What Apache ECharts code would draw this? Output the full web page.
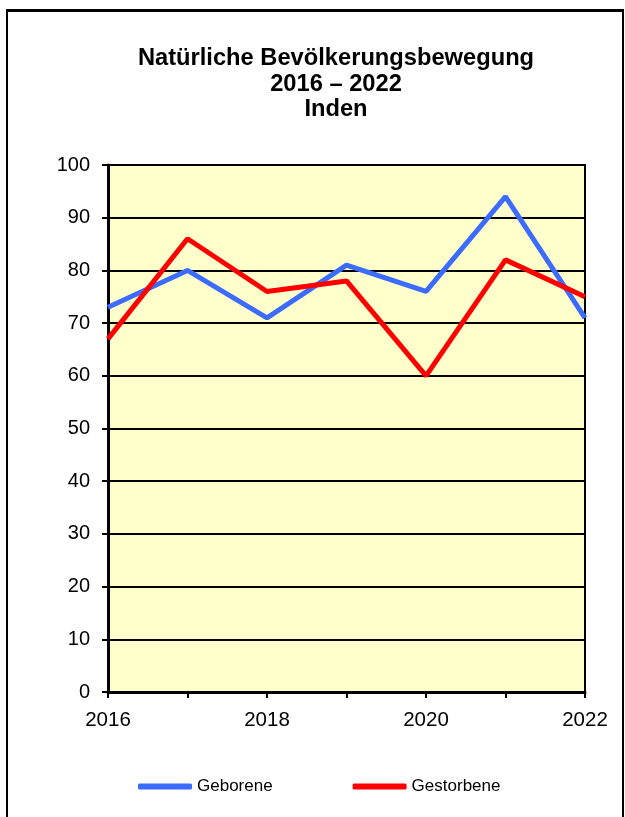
<!DOCTYPE html>
<html><head><meta charset="utf-8">
<script src="https://cdn.jsdelivr.net/npm/echarts@6/dist/echarts.min.js"></script>
<style>
html,body{margin:0;padding:0;background:#fff;}
#frame{position:absolute;left:6px;top:9px;width:618px;height:830px;border:2px solid #000;border-top-width:3px;box-sizing:border-box;}
#c{position:absolute;left:0;top:0;width:625px;height:817px;}
</style></head>
<body>
<div id="frame"></div>
<div id="c"></div>
<script>
const years = ['2016','2017','2018','2019','2020','2021','2022'];
const geborene = [73, 80, 71, 81, 76, 94, 71];
const gestorbene = [67, 86, 76, 78, 60, 82, 75];
const titleLines = ['Natürliche Bevölkerungsbewegung', '2016 – 2022', 'Inden'];

const FONT = 'Liberation Sans, Arial, sans-serif';
const chart = echarts.init(document.getElementById('c'), null, {renderer:'canvas'});
chart.setOption({
  animation:false,
  backgroundColor:'transparent',
  title:{
    text:titleLines.join('\n'),
    top:41, left:331,
    textAlign:'center',
    textStyle:{fontFamily:FONT, fontWeight:'bold', fontSize:23.7, color:'#000', lineHeight:25.5}
  },
  legend:{
    bottom:17, left:133,
    itemGap:80, itemWidth:54, itemHeight:6,
    icon:'roundRect',
    textStyle:{fontFamily:FONT, fontSize:17, color:'#000'},
    data:['Geborene','Gestorbene']
  },
  grid:{left:108, right:40, top:165, bottom:125, show:true, backgroundColor:'#FFFFCC', borderColor:'#000', borderWidth:2},
  xAxis:{
    type:'category', data:years, boundaryGap:false,
    axisLine:{show:true, lineStyle:{color:'#000', width:3}},
    axisTick:{show:true, interval:0, length:6, lineStyle:{color:'#000', width:2}},
    axisLabel:{interval:1, color:'#000', fontFamily:FONT, fontSize:20.5, margin:18, showMaxLabel:true},
    splitLine:{show:false}
  },
  yAxis:{
    type:'value', min:0, max:100, interval:10,
    axisLine:{show:true, lineStyle:{color:'#000', width:3}},
    axisTick:{show:true, inside:false, length:6, lineStyle:{color:'#000', width:2}},
    axisLabel:{color:'#000', fontFamily:FONT, fontSize:20, margin:18},
    splitLine:{show:true, lineStyle:{color:'#000', width:2}}
  },
  series:[
    {name:'Geborene', type:'line', data:geborene, symbol:'none', lineStyle:{color:'#3B6BFF', width:5}, itemStyle:{color:'#3B6BFF'}, z:3},
    {name:'Gestorbene', type:'line', data:gestorbene, symbol:'none', lineStyle:{color:'#FF0000', width:5}, itemStyle:{color:'#FF0000'}, z:4}
  ]
});
</script>
</body></html>
